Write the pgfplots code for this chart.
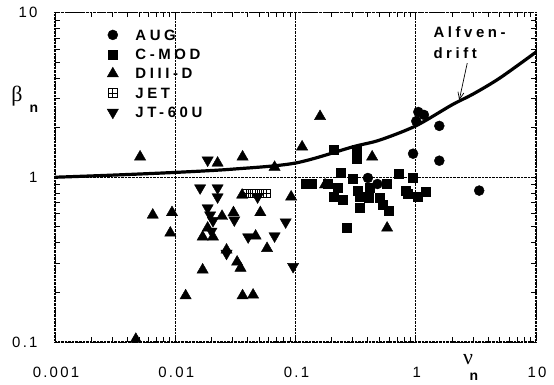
\documentclass[border=0pt]{standalone}
\usepackage{pgfplots}
\pgfplotsset{compat=1.18}
\usepackage{fontspec}
\setmainfont{Liberation Sans}
\newfontfamily\lsfont[LetterSpace=15]{Liberation Sans}
\newfontfamily\lbfont[LetterSpace=24]{Liberation Sans Bold}
\newfontfamily\grk{Liberation Serif}
\usetikzlibrary{arrows.meta}
\pgfdeclareplotmark{boxplus}{%
  \pgfpathrectangle{\pgfqpoint{-\pgfplotmarksize}{-\pgfplotmarksize}}{\pgfqpoint{2\pgfplotmarksize}{2\pgfplotmarksize}}%
  \pgfpathmoveto{\pgfqpoint{-\pgfplotmarksize}{0pt}}\pgfpathlineto{\pgfqpoint{\pgfplotmarksize}{0pt}}%
  \pgfpathmoveto{\pgfqpoint{0pt}{-\pgfplotmarksize}}\pgfpathlineto{\pgfqpoint{0pt}{\pgfplotmarksize}}%
  \pgfusepathqstroke}
\begin{document}
\begin{tikzpicture}
\path[use as bounding box] (-55bp,-43bp) rectangle (499bp,342bp);
\begin{axis}[
  at={(0,0)}, anchor=south west,
  scale only axis, width=481bp, height=329.5bp,
  xmode=log, ymode=log, xmin=0.001, xmax=10, ymin=0.1, ymax=10,
  xtick={0.001,0.01,0.1,1,10}, xticklabels={},
  ytick={0.1,1,10}, yticklabels={0.1,1,10},
  tick align=inside, major tick length=0pt, minor tick length=5bp,
  tick style={black, line width=0.8bp},
  grid=major, major grid style={black, densely dotted, line width=1.2bp},
  axis line style={black, densely dotted, line width=0.9bp},
  ticklabel style={font=\fontsize{15}{15}\selectfont\lsfont},
  yticklabel style={anchor=east, xshift=-14bp},
  legend style={draw=none, fill=none, inner sep=0pt,
    at={(axis description cs:0,1)}, anchor=north west, xshift=52bp, yshift=-15bp,
    font=\fontsize{15}{15}\selectfont\lbfont, row sep=5bp,
    nodes={inner sep=2bp, text depth=0pt},
    /tikz/every odd column/.append style={column sep=15bp}},
  legend cell align=left,
]
\addplot[black, line width=3.2bp, smooth, forget plot] coordinates {
(0.001,1.0)(0.003,1.03)(0.01,1.07)(0.03,1.12)(0.1,1.22)(0.3,1.53)(0.5,1.68)(1,2.05)(2,2.75)(3,3.2)(5,4.0)(10,5.75)};
% AUG
\addplot[only marks, mark=*, mark size=5bp, black] coordinates {
(1.05,2.49)(1.17,2.39)(1.01,2.19)(1.57,2.05)(0.95,1.39)(1.57,1.26)(3.37,0.83)(0.40,0.99)(0.48,0.91)};
\addlegendentry{AUG}
% C-MOD
\addplot[only marks, mark=square*, mark size=4.5bp, black] coordinates {
(0.237,1.07)(0.30,0.975)(0.121,0.916)(0.137,0.92)(0.187,0.916)(0.226,0.867)(0.206,0.759)(0.245,0.728)
(0.332,0.831)(0.344,0.759)(0.344,0.651)(0.413,0.867)(0.405,0.748)(0.578,0.916)(0.506,0.748)(0.536,0.679)
(0.601,0.624)(0.728,1.05)(0.951,0.99)(0.82,0.83)(0.86,0.79)(1.03,0.76)(1.20,0.815)(0.268,0.492)
(0.206,1.48)(0.322,1.48)(0.32,1.29)};
\addlegendentry{C-MOD}
% DIII-D
\addplot[only marks, mark=triangle*, mark size=6.5bp, black] coordinates {
(0.0051,1.33)(0.0225,1.22)(0.0363,1.33)(0.067,1.15)(0.1135,1.53)(0.160,2.34)(0.434,1.33)(0.176,0.90)
(0.092,0.76)(0.578,0.492)(0.036,0.78)(0.0065,0.59)(0.0094,0.611)(0.0091,0.459)(0.051,0.611)(0.0305,0.61)
(0.0245,0.58)(0.0169,0.434)(0.0206,0.434)(0.0466,0.44)(0.058,0.37)(0.0267,0.362)(0.0327,0.306)
(0.0349,0.281)(0.0169,0.274)(0.0122,0.191)(0.0363,0.191)(0.0444,0.193)(0.0047,0.104)(0.0186,0.492)};
\addlegendentry{DIII-D}
% JET
\addplot[only marks, mark=boxplus, mark size=4.3bp, black, line width=0.8bp] coordinates {
(0.039,0.80)(0.044,0.80)(0.050,0.80)(0.057,0.80)};
\addlegendentry{JET}
% JT-60U
\addplot[only marks, mark=triangle*, mark size=6.5bp, mark options={rotate=180}, black] coordinates {
(0.0186,1.27)(0.0161,0.861)(0.0225,0.861)(0.0225,0.759)(0.0484,0.759)(0.0186,0.651)(0.0195,0.59)
(0.0206,0.545)(0.031,0.55)(0.0828,0.535)(0.0404,0.434)(0.067,0.44)(0.0267,0.345)(0.0955,0.287)(0.020,0.47)};
\addlegendentry{JT-60U}
\node[anchor=west, font=\fontsize{15}{15}\selectfont\lbfont, inner sep=0pt] at (axis cs:1.40,7.62) {Alfven-};
\node[anchor=west, font=\fontsize{15}{15}\selectfont\lbfont, inner sep=0pt] at (axis cs:1.40,5.68) {drift};
\draw[-{Straight Barb[length=7bp,width=6bp]}, line width=0.7bp] (axis cs:2.68,4.93) -- (axis cs:2.30,2.94);
\end{axis}
\foreach \xx/\lab in {0/0.001, 120.25/0.01, 240.5/0.1, 360.75/1, 481/10}
  \node[anchor=base, font=\fontsize{15}{15}\selectfont\lsfont, inner sep=0pt] at (\xx bp+1bp,-35bp) {\lab};
\node[font=\fontsize{22}{22}\selectfont\grk] at (-38bp,246bp) {β};
\node[font=\fontsize{14}{14}\selectfont\bfseries] at (-21bp,233bp) {n};
\node[font=\fontsize{22}{22}\selectfont\grk] at (413bp,-18bp) {ν};
\node[font=\fontsize{14}{14}\selectfont\bfseries] at (419bp,-35bp) {n};
\end{tikzpicture}
\end{document}
